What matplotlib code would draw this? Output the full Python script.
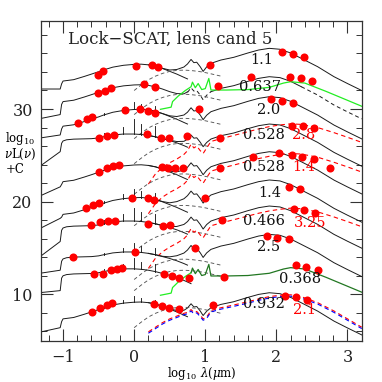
import numpy as np
import matplotlib
matplotlib.use("Agg")
import matplotlib.pyplot as plt
from matplotlib.ticker import MultipleLocator

plt.rcParams['font.family'] = ['DejaVu Serif']
plt.rcParams['mathtext.fontset'] = 'dejavuserif'

# ---------------- templates on a shared rest-frame grid (log10 lambda / um) -------------
X_GRID = [-1.3, -1.04, -1.02, -1.0, -0.95, -0.85, -0.7, -0.6, -0.55, -0.5, -0.43, -0.3,
          -0.15, 0.0, 0.1, 0.2, 0.3, 0.4, 0.5, 0.6, 0.7, 0.75, 0.8, 0.84, 0.88, 0.93,
          0.97, 1.02, 1.08, 1.22, 1.4, 1.6, 1.75, 1.9, 2.05, 2.2, 2.35, 2.58, 2.81, 3.0, 3.2]
nan = np.nan
# stellar (relative to the optical plateau)
STELLAR_OLD = [-2.66, -2.66, -2.1, -1.8, -1.75, -1.65, -1.3, -1.05, -0.92, -0.8, -0.6, -0.3,
               -0.1, 0.0, 0.02, -0.05, -0.2, -0.45, -0.75, -1.05, -1.4, -1.57, -1.75, -1.9,
               -2.07, -2.3, -2.5, -2.75, -3.05, -3.75, -4.7, -5.7, nan, nan, nan, nan, nan,
               nan, nan, nan, nan]
STELLAR_YOUNG = [-1.8, -1.6, -1.0, -0.75, -0.62, -0.55, -0.52, -0.5, -0.46, -0.42, -0.3, -0.1,
                 0.0, 0.0, -0.05, -0.15, -0.3, -0.5, -0.7, -0.95, -1.25, -1.42, -1.6, -1.75,
                 -1.9, -2.1, -2.3, -2.55, -2.85, -3.5, -4.4, -5.4, nan, nan, nan, nan, nan,
                 nan, nan, nan, nan]
# far-IR dust (relative to peak)
DUST_T = [nan, nan, nan, nan, nan, nan, nan, nan, nan, nan, nan, nan, nan, nan, nan,
          -5.0, -4.2, -3.5, -2.9, -2.45, -2.05, -1.7, -1.2, -1.55, -1.5, -2.0, -2.5, -2.0,
          -1.62, -1.26, -0.97, -0.5, -0.18, 0.0, -0.1, -0.5, -1.08, -1.98, -3.06, -3.8, -4.55]
# hot dust / torus component (relative to peak), drawn dashed
TORUS_T = [nan, nan, nan, nan, nan, nan, nan, nan, nan, nan, nan, nan, nan,
           -2.2, -1.6, -1.05, -0.65, -0.35, -0.14, -0.03, 0.0, -0.02, -0.05, -0.08, -0.12,
           -0.17, -0.22, -0.3, -0.4, -0.65, nan, nan, nan, nan, nan, nan, nan, nan, nan, nan, nan]
# alternative starburst fits (relative to peak), drawn dashed
RED_T = [nan, nan, nan, nan, nan, nan, nan, nan, nan, nan, nan, nan, nan, nan, nan,
         -6.5, -5.4, -4.7, -4.2, -3.8, -3.3, -2.9, -2.2, -2.6, -2.4, -2.9, -3.2, -2.6, -1.9,
         -1.6, -1.25, -0.85, -0.55, -0.3, -0.12, 0.0, -0.06, -0.4, -0.95, -1.45, -2.0]
RED10_T = [nan, nan, nan, nan, nan, nan, nan, nan, nan, nan, nan, nan, nan, nan, nan,
           -4.0, -3.5, -3.0, -2.6, -2.3, -2.0, -1.9, -1.6, -1.9, -1.8, -2.2, -2.6, -2.4, -1.7,
           -1.4, -1.1, -0.75, -0.45, -0.2, -0.05, 0.0, -0.2, -0.85, -1.75, -2.6, -3.5]
# cirrus template (absolute for the 0.637 object)
GREEN_X = [0.37, 0.52, 0.54, 0.62, 0.72, 0.8, 0.82, 0.86, 0.9, 0.95, 1.0, 1.05, 1.08,
           1.3, 1.6, 1.9, 2.1, 2.2, 2.4, 2.7, 3.2]
GREEN_Y = [29.97, 30.2, 30.8, 31.4, 32.0, 32.4, 32.9, 32.3, 32.75, 32.1, 32.2, 33.3, 32.05,
           32.05, 32.1, 32.34, 32.8, 32.95, 32.8, 31.9, 30.3]

SPIKE_X = [-0.43, -0.15, 0.0, 0.1, 0.3]
SPIKE_H = [0.4, 0.8, 1.6, 1.1, 1.2]

# ---------------- per-object values (top to bottom) ----------------
ROW_PLATEAU = [34.82, 32.6, 29.95, 27.3, 23.96, 20.43, 17.91, 14.57, 12.75, 9.15]
ROW_STELLAR = ['old', 'old', 'old', 'young', 'old', 'old', 'young', 'young', 'young', 'old']
ROW_LEFT_A = [32.16, 29.0, 26.9, 23.96, 20.7, 17.2, 14.2, 12.3, 10.2, 5.96]
ROW_LEFT_B = [32.16, 29.4, 27.2, 25.4, 21.6, 18.2, 15.7, 12.6, 10.4, 6.4]
ROW_DUST_PEAK = [36.55, 33.49, 31.33, 28.38, 25.39, 22.34, 19.53, 16.47, nan, 10.17]
ROW_TORUS_PEAK = [34.2, 31.6, 29.0, 26.3, 23.0, 19.6, 16.8, 13.8, 12.6, 8.6]
ROW_RED_PEAK = [nan, nan, nan, 28.4, 25.2, nan, 19.3, nan, nan, 9.95]
ROW_BLUE_PEAK = [nan, nan, nan, nan, nan, nan, nan, nan, nan, 9.8]
ROW_GREEN_SHIFT = [nan, 0.0, nan, nan, nan, nan, nan, nan, -20.07, nan]
ROW_SPIKE_SCALE = [0, 0, 0.5, 1.0, 0, 0.6, 0.9, 0.6, 0.7, 0.4]

DOTS_X = [
    [-0.515, -0.437, 0.024, 0.245, 0.338, 1.07, 2.08, 2.235, 2.394],
    [-0.515, -0.408, -0.324, 0.141, 0.296, 1.175, 1.648, 2.197, 2.348, 2.503],
    [-0.783, -0.670, -0.586, -0.131, 0.085, 0.189, 0.292, 0.915, 1.93, 2.08, 2.235],
    [-0.493, -0.385, -0.290, 0.175, 0.376, 0.485, 0.738, 1.211, 2.221, 2.372, 2.535],
    [-0.493, -0.385, -0.296, -0.22, 0.386, 0.479, 0.573, 0.682, 1.207, 1.672, 2.042,
     2.221, 2.362, 2.527, 2.752],
    [-0.680, -0.572, -0.493, -0.032, 0.189, 0.282, 1.0, 2.183, 2.338],
    [-0.61, -0.479, -0.366, -0.272, 0.189, 0.408, 0.503, 1.235, 2.245, 2.394, 2.549],
    [-0.854, 0.014, 0.851, 1.869, 2.01, 2.175],
    [-0.563, -0.445, -0.328, -0.244, -0.177, 0.423, 0.527, 0.634, 0.775, 1.259, 2.277,
     2.423, 2.583],
    [-0.586, -0.479, -0.385, -0.318, 0.282, 0.386, 0.493, 0.634, 1.104, 2.127, 2.277, 2.432],
]
DOTS_Y = [
    [33.67, 34.10, 34.67, 34.75, 34.57, 34.72, 36.15, 35.94, 35.65],
    [31.69, 31.97, 32.27, 32.70, 32.34, 32.48, 33.42, 33.49, 33.31, 33.05],
    [28.52, 28.89, 29.17, 29.89, 29.97, 29.78, 29.60, 29.97, 31.05, 30.90, 30.62],
    [26.84, 27.09, 27.19, 27.27, 26.90, 26.84, 27.09, 26.90, 28.20, 28.20, 27.98],
    [23.23, 23.60, 23.88, 23.96, 23.77, 23.66, 23.60, 23.60, 23.66, 24.85, 25.22, 25.04,
     24.85, 24.57, 23.66],
    [19.28, 19.61, 19.82, 20.43, 20.36, 20.18, 20.36, 21.55, 21.33],
    [17.45, 17.80, 17.91, 17.91, 17.56, 17.40, 17.45, 17.99, 19.17, 19.07, 18.81],
    [14.03, 14.57, 14.97, 16.29, 16.05, 15.94],
    [12.22, 12.16, 12.62, 12.76, 12.81, 12.16, 11.94, 11.73, 11.73, 11.90, 13.13, 12.95, 12.66],
    [8.12, 8.49, 8.85, 9.09, 8.92, 8.74, 8.55, 8.45, 8.85, 9.82, 9.71, 9.35],
]

LABEL_TEXT = ['1.1', '0.637', '2.0', '0.528', '2.8', '0.528', '1.4', '1.4', '0.466', '3.25',
              '2.5', '0.368', '0.932', '2.1']
LABEL_X = [1.79, 1.77, 1.89, 1.83, 2.39, 1.83, 2.39, 1.90, 1.83, 2.47, 1.89, 2.33, 1.83, 2.39]
LABEL_Y = [35.29, 32.41, 29.89, 27.19, 27.19, 23.77, 23.77, 20.9, 17.9, 17.7, 15.1, 11.62,
           8.92, 8.31]
LABEL_RED = [False, False, False, False, True, False, True, False, False, True, False,
             False, False, True]

TITLE = "Lock\u2212SCAT, lens cand 5"

# ---------------- drawing ----------------
fig = plt.figure(figsize=(3.82, 3.82), dpi=100)
ax = fig.add_axes([0.1073, 0.1073, 0.8396, 0.8377])
xg = np.array(X_GRID)
LW = 0.7
BLACK = '#1a1a1a'
RED = '#ff0000'
DASH = (0, (4, 3))


def seg(lo, hi):
    return (xg >= lo - 1e-9) & (xg <= hi + 1e-9)


for i in range(len(ROW_PLATEAU)):
    tmpl = STELLAR_OLD if ROW_STELLAR[i] == 'old' else STELLAR_YOUNG
    s = ROW_PLATEAU[i] + np.array(tmpl, dtype=float)
    s[0] = ROW_LEFT_A[i]
    s[1] = ROW_LEFT_B[i]
    if not np.isnan(ROW_DUST_PEAK[i]):
        d = ROW_DUST_PEAK[i] + np.array(DUST_T, dtype=float)
    else:
        d = np.full_like(xg, nan)
    lin = np.nan_to_num(10 ** (s - 20)) + np.nan_to_num(10 ** (d - 20))
    tot = np.where(lin > 0, np.log10(np.where(lin > 0, lin, 1)) + 20, nan)

    if i == 1:
        m = seg(-1.3, 0.75)
        ax.plot(xg[m], tot[m], color=BLACK, lw=LW)
        m = seg(0.75, 1.08)
        ax.plot(xg[m], d[m], color=BLACK, lw=LW, ls=DASH)
        m = seg(1.08, 2.35)
        ax.plot(xg[m], d[m], color=BLACK, lw=LW)
        m = seg(2.35, 3.2)
        ax.plot(xg[m], d[m], color=BLACK, lw=LW, ls=DASH)
    elif i == 8:
        m = seg(-1.3, 0.8)
        ax.plot(xg[m], s[m], color=BLACK, lw=LW)
    else:
        ax.plot(xg, tot, color=BLACK, lw=LW)
        m = seg(0.2, 0.75)
        ax.plot(xg[m], s[m], color=BLACK, lw=LW)

    # torus (dashed)
    t = ROW_TORUS_PEAK[i] + np.array(TORUS_T, dtype=float)
    ax.plot(xg, t, color='#555555', lw=0.65, ls=DASH)

    # emission spikes
    if ROW_SPIKE_SCALE[i] > 0:
        for sx, sh in zip(SPIKE_X, SPIKE_H):
            k = int(np.argmin(np.abs(xg - sx)))
            ax.plot([xg[k], xg[k]], [s[k], s[k] + sh * ROW_SPIKE_SCALE[i]],
                    color=BLACK, lw=0.65)

    # alternative fits
    if not np.isnan(ROW_RED_PEAK[i]):
        rt = RED10_T if i == 9 else RED_T
        ax.plot(xg, ROW_RED_PEAK[i] + np.array(rt, dtype=float), color=RED, lw=0.8,
                ls=DASH)
    if not np.isnan(ROW_BLUE_PEAK[i]):
        ax.plot(xg, ROW_BLUE_PEAK[i] + np.array(RED10_T, dtype=float), color='#0000ff',
                lw=0.8, ls=DASH)
    if not np.isnan(ROW_GREEN_SHIFT[i]):
        gx = np.array(GREEN_X)
        gy = np.array(GREEN_Y) + ROW_GREEN_SHIFT[i]
        if i == 1:
            ax.plot(gx, gy, color='#22ee22', lw=0.9)
        else:
            m = gx <= 0.8
            ax.plot(gx[m], gy[m], color='#22ee22', lw=0.9)
            m = gx >= 0.8
            ax.plot(gx[m], gy[m], color='#227722', lw=0.9)

    ax.plot(DOTS_X[i], DOTS_Y[i], 'o', color=RED, ms=5.8, mec='none', zorder=5)

for txt, lx, ly, red in zip(LABEL_TEXT, LABEL_X, LABEL_Y, LABEL_RED):
    ax.text(lx, ly, txt, color=RED if red else '#111111', fontsize=10.5,
            ha='center', va='center', zorder=6)

ax.text(-0.93, 37.5, TITLE, fontsize=12, ha='left', va='center', color='#222222')

ax.set_xlim(-1.31, 3.2)
ax.set_ylim(4.96, 39.5)
ax.xaxis.set_major_locator(MultipleLocator(1))
ax.xaxis.set_minor_locator(MultipleLocator(0.2))
ax.yaxis.set_major_locator(MultipleLocator(10))
ax.yaxis.set_minor_locator(MultipleLocator(2))
ax.tick_params(which='both', direction='in', top=True, right=True, colors='#333333',
               labelcolor='#222222')
ax.tick_params(which='major', length=8.5, width=0.8, labelsize=11.5, pad=6)
ax.tick_params(which='minor', length=4.3, width=0.7)
ax.set_xticks([-1, 0, 1, 2, 3])
ax.set_xticklabels(['\u22121', '0', '1', '2', '3'])
for sp in ax.spines.values():
    sp.set_color('#333333')
    sp.set_linewidth(0.9)

fig.text(0.012, 0.638, r'log$_{10}$', fontsize=8.5, ha='left', va='center')
fig.text(0.010, 0.595, r'$\nu$L($\nu$)', fontsize=8.5, ha='left', va='center')
fig.text(0.014, 0.556, '+C', fontsize=8.5, ha='left', va='center')
fig.text(0.527, 0.022, r'log$_{10}$ $\lambda$($\mu$m)', fontsize=8.5, ha='center',
         va='center')

fig.savefig('out.png', dpi=100)
